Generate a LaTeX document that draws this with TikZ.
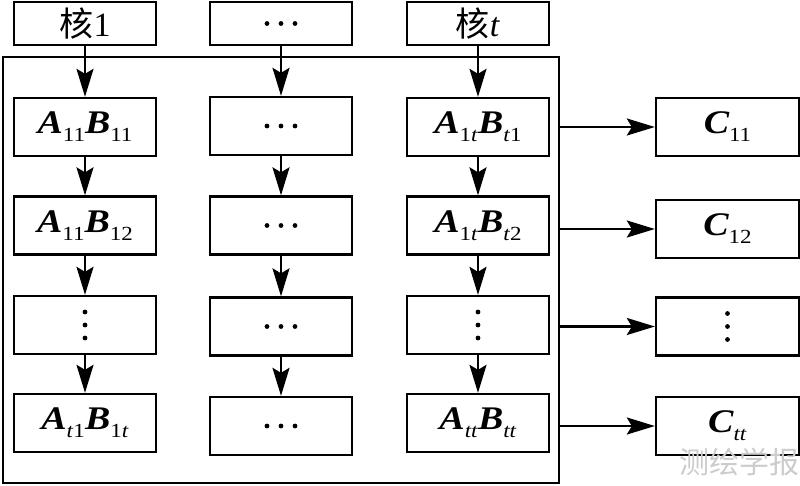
\documentclass[tikz,border=0pt]{standalone}
\usepackage{fontspec}
\setmainfont{Liberation Serif}
\newfontfamily\cjk{Noto Sans CJK SC}
\newfontfamily\lab[FakeStretch=1.15]{Liberation Serif}
\usetikzlibrary{arrows.meta}
\newcommand{\bi}[1]{{\bfseries\itshape #1}}
\newcommand{\sbs}[1]{\raisebox{-8pt}{\fontsize{20}{20}\selectfont #1}}
\begin{document}
\begin{tikzpicture}[x=1pt,y=-1pt,
  box/.style={draw, line width=2.3pt, minimum width=142pt, minimum height=58pt, inner sep=0pt, font=\lab\fontsize{33}{33}\selectfont},
  topbox/.style={box, minimum height=43pt, font=\fontsize{34}{34}\selectfont},
  cbox/.style={box, minimum width=143pt},
  arr/.style={line width=2.2pt, -{Stealth[length=28pt,width=17pt,inset=5pt]}},
  dot/.style={fill=black}]
\useasboundingbox (0,0) rectangle (800,485);
% frame
\node[draw, line width=2.3pt, minimum width=556pt, minimum height=426pt, inner sep=0pt] (frame) at (281,270) {};
% top
\node[topbox] (k1) at (85,23.5) {{\cjk 核}1};
\node[topbox] (k2) at (281,23.5) {};
\node[topbox] (kt) at (478,23.5) {{\cjk 核}\textit{t}};
% column 1
\node[box] (a1) at (85,127) {\bi{A}\sbs{11}\bi{B}\sbs{11}};
\node[box] (a2) at (85,225.5) {\bi{A}\sbs{11}\bi{B}\sbs{12}};
\node[box] (a3) at (85,325) {};
\node[box] (a4) at (85,423) {\bi{A}\sbs{\textit{t}1}\bi{B}\sbs{1\textit{t}}};
% column 2
\node[box] (b1) at (281,126) {};
\node[box] (b2) at (281,225.5) {};
\node[box] (b3) at (281,326.5) {};
\node[box] (b4) at (281,426) {};
% column 3
\node[box] (t1) at (478,127) {\bi{A}\sbs{1\textit{t}}\bi{B}\sbs{\textit{t}1}};
\node[box] (t2) at (478,225.5) {\bi{A}\sbs{1\textit{t}}\bi{B}\sbs{\textit{t}2}};
\node[box] (t3) at (478,325) {};
\node[box] (t4) at (478,423) {\bi{A}\sbs{\textit{tt}}\bi{B}\sbs{\textit{tt}}};
% C column
\node[cbox] (c1) at (727.5,127) {\bi{C}\sbs{11}};
\node[cbox] (c2) at (727.5,229) {\bi{C}\sbs{12}};
\node[cbox] (c3) at (727.5,326.5) {};
\node[cbox] (c4) at (727.5,426) {\bi{C}\sbs{\textit{tt}}};
% dots
\foreach \n in {k2,b1,b2,b3,b4} {
  \foreach \d in {-14,0,14} \fill[dot] ([xshift=\d pt]\n.center) circle[radius=2.4pt];
}
\foreach \n in {a3,t3,c3} {
  \foreach \d in {-13,0,13} \fill[dot] ([yshift=\d pt]\n.center) circle[radius=2.4pt];
}
% vertical arrows
\draw[arr] (k1) -- (a1);
\draw[arr] (a1) -- (a2);
\draw[arr] (a2) -- (a3);
\draw[arr] (a3) -- (a4);
\draw[arr] (k2) -- (b1);
\draw[arr] (b1) -- (b2);
\draw[arr] (b2) -- (b3);
\draw[arr] (b3) -- (b4);
\draw[arr] (kt) -- (t1);
\draw[arr] (t1) -- (t2);
\draw[arr] (t2) -- (t3);
\draw[arr] (t3) -- (t4);
% horizontal arrows
\foreach \c in {c1,c2,c3,c4} \draw[arr] (frame.east |- \c.west) -- (\c.west);
% watermark
\node[text=black!20, font=\cjk\fontsize{30}{30}\selectfont, inner sep=0pt] (wm) at (739,462) {测绘学报};
\end{tikzpicture}
\end{document}
